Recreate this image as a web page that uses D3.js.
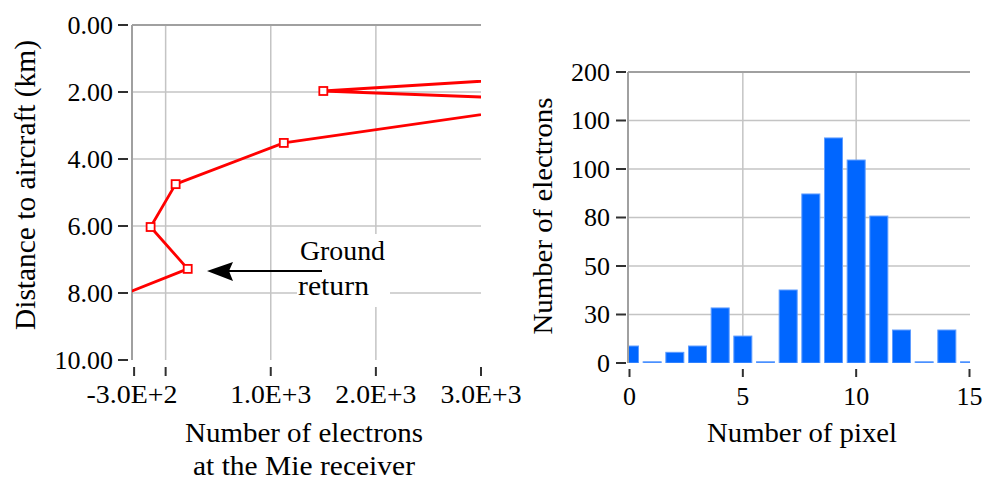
<!DOCTYPE html>
<html><head><meta charset="utf-8">
<script src="https://cdn.jsdelivr.net/npm/d3@7"></script>
<style>
html,body{margin:0;padding:0;background:#fff;}
svg{display:block;font-family:"Liberation Serif","Times New Roman",serif;}
</style></head>
<body><svg id="c" width="983" height="480"></svg>
<script>
// ---- Left chart data ----
const distanceKm = [1.25, 1.97, 2.26, 3.52, 4.75, 6.03, 7.28, 8.29];
const mieElectrons = [5220, 1500, 3930, 1124, 95, -143, 210, -600];
const leftXTicks = [-300, 0, 1000, 2000, 3000];
const leftXLabels = ["-3.0E+2", "", "1.0E+3", "2.0E+3", "3.0E+3"];
const leftYTicks = [0, 2, 4, 6, 8, 10];
const leftYLabels = ["0.00", "2.00", "4.00", "6.00", "8.00", "10.00"];

// ---- Right chart data ----
const pixelNumber = [0,1,2,3,4,5,6,7,8,9,10,11,12,13,14,15];
const pixelCounts = [7.0, 0.5, 4.4, 7.0, 22.7, 11.1, 0.5, 30.1, 69.7, 92.8, 83.7, 60.6, 13.6, 0.5, 13.6, 0.5];
const rightXTicks = [0, 5, 10, 15];
const rightYTicks = [0, 20, 40, 60, 80, 100, 120];
const rightYLabels = ["0", "30", "50", "80", "100", "100", "200"];

const svg = d3.select("#c");
const FS = 26, TFS = 28;
const gridC = "#c4c4c4", axisC = "#a0a0a0", tickC = "#303030";

function fitText(sel, len) {
  return sel.attr("textLength", len).attr("lengthAdjust", "spacingAndGlyphs");
}

// ================= LEFT =================
const xL = d3.scaleLinear().domain([-320, 3000]).range([132, 481]);
const yL = d3.scaleLinear().domain([0, 10]).range([25, 360]);
const L = svg.append("g");

L.selectAll(".vg").data([0, 1000, 2000]).join("line")
  .attr("x1", d => xL(d)).attr("x2", d => xL(d)).attr("y1", yL(0)).attr("y2", yL(10))
  .attr("stroke", gridC).attr("stroke-width", 1.5);
L.selectAll(".hg").data([2, 4, 6, 8]).join("line")
  .attr("x1", xL.range()[0]).attr("x2", xL.range()[1]).attr("y1", d => yL(d)).attr("y2", d => yL(d))
  .attr("stroke", gridC).attr("stroke-width", 1.5);
L.append("line").attr("x1", xL.range()[0]).attr("x2", xL.range()[1]).attr("y1", yL(0)).attr("y2", yL(0))
  .attr("stroke", axisC).attr("stroke-width", 2);
L.append("line").attr("x1", xL.range()[0]).attr("x2", xL.range()[0]).attr("y1", yL(0)).attr("y2", yL(10))
  .attr("stroke", axisC).attr("stroke-width", 2);

L.selectAll(".yt").data(leftYTicks).join("line")
  .attr("x1", 118).attr("x2", 128).attr("y1", d => yL(d)).attr("y2", d => yL(d))
  .attr("stroke", tickC).attr("stroke-width", 2);
L.selectAll(".yl").data(leftYTicks).join("text")
  .attr("x", 113).attr("y", d => yL(d) + 8.5).attr("text-anchor", "end")
  .attr("font-size", FS).text((d, i) => leftYLabels[i]);
L.selectAll(".xt").data(leftXTicks).join("line")
  .attr("x1", d => xL(d)).attr("x2", d => xL(d)).attr("y1", 367).attr("y2", 376)
  .attr("stroke", tickC).attr("stroke-width", 2);
L.selectAll(".xl").data(leftXTicks.filter((d, i) => leftXLabels[i])).join("text")
  .attr("x", d => d === -300 ? 132 : xL(d)).attr("y", 403).attr("text-anchor", "middle")
  .attr("font-size", FS)
  .attr("textLength", d => d === -300 ? 91 : 81).attr("lengthAdjust", "spacingAndGlyphs")
  .text(d => leftXLabels[leftXTicks.indexOf(d)]);

fitText(L.append("text").attr("x", 304).attr("y", 442).attr("text-anchor", "middle").attr("font-size", TFS)
  .text("Number of electrons"), 238);
fitText(L.append("text").attr("x", 304).attr("y", 475).attr("text-anchor", "middle").attr("font-size", TFS)
  .text("at the Mie receiver"), 222);
fitText(L.append("text").attr("transform", "translate(35,185) rotate(-90)").attr("text-anchor", "middle")
  .attr("font-size", TFS + 2).text("Distance to aircraft (km)"), 290);

L.append("rect").attr("x", 297).attr("y", 234).attr("width", 93).attr("height", 73).attr("fill", "#fff");
fitText(L.append("text").attr("x", 300).attr("y", 260).attr("font-size", TFS).text("Ground"), 85);
fitText(L.append("text").attr("x", 298).attr("y", 295).attr("font-size", TFS).text("return"), 71);

svg.append("defs").append("clipPath").attr("id", "clipL").append("rect")
  .attr("x", xL.range()[0]).attr("y", yL(0)).attr("width", xL.range()[1] - xL.range()[0]).attr("height", yL(10) - yL(0));
const pts = distanceKm.map((d, i) => [mieElectrons[i], d]);
const line = d3.line().x(d => xL(d[0])).y(d => yL(d[1]));
const lg = L.append("g").attr("clip-path", "url(#clipL)");
lg.append("path").attr("d", line(pts)).attr("fill", "none").attr("stroke", "#ff0000")
  .attr("stroke-width", 2.8).attr("stroke-linejoin", "round");
lg.selectAll(".mk").data(pts).join("rect")
  .attr("x", d => xL(d[0]) - 4).attr("y", d => yL(d[1]) - 4).attr("width", 8).attr("height", 8)
  .attr("fill", "#fff").attr("stroke", "#ff0000").attr("stroke-width", 1.8);

L.append("line").attr("x1", 322).attr("x2", 228).attr("y1", 271).attr("y2", 271)
  .attr("stroke", "#000").attr("stroke-width", 2);
L.append("path").attr("d", "M207,271 L233,262 L229,271 L233,281 Z").attr("fill", "#000");

// ================= RIGHT =================
const xR = d3.scaleLinear().domain([0, 15]).range([629.5, 969.5]);
const yR = d3.scaleLinear().domain([0, 120]).range([363, 72]);
const R = svg.append("g");
const rx0 = 628, rx1 = 970;

R.selectAll(".vg").data([5, 10]).join("line")
  .attr("x1", d => xR(d)).attr("x2", d => xR(d)).attr("y1", yR(120)).attr("y2", yR(0))
  .attr("stroke", gridC).attr("stroke-width", 1.5);
R.selectAll(".hg").data([20, 40, 60, 80, 100]).join("line")
  .attr("x1", rx0).attr("x2", rx1).attr("y1", d => yR(d)).attr("y2", d => yR(d))
  .attr("stroke", gridC).attr("stroke-width", 1.5);
R.append("line").attr("x1", rx0).attr("x2", rx1).attr("y1", yR(120)).attr("y2", yR(120))
  .attr("stroke", axisC).attr("stroke-width", 2);
R.append("line").attr("x1", rx0).attr("x2", rx0).attr("y1", yR(120)).attr("y2", yR(0))
  .attr("stroke", axisC).attr("stroke-width", 2);

svg.select("defs").append("clipPath").attr("id", "clipR").append("rect")
  .attr("x", rx0 + 1).attr("y", yR(120)).attr("width", rx1 - rx0 - 1).attr("height", yR(0) - yR(120));
const bw = 18;
R.append("g").attr("clip-path", "url(#clipR)").selectAll("rect").data(pixelNumber).join("rect")
  .attr("x", d => xR(d) - bw / 2).attr("width", bw)
  .attr("y", (d, i) => yR(pixelCounts[i])).attr("height", (d, i) => yR(0) - yR(pixelCounts[i]))
  .attr("fill", "#0066ff").attr("stroke", "#5e9cff").attr("stroke-width", 1);

R.selectAll(".yt").data(rightYTicks).join("line")
  .attr("x1", 616).attr("x2", 626).attr("y1", d => yR(d)).attr("y2", d => yR(d))
  .attr("stroke", tickC).attr("stroke-width", 2);
R.selectAll(".yl").data(rightYTicks).join("text")
  .attr("x", 610).attr("y", d => yR(d) + 8.5).attr("text-anchor", "end")
  .attr("font-size", FS).text((d, i) => rightYLabels[i]);
R.selectAll(".xt").data(rightXTicks).join("line")
  .attr("x1", d => xR(d)).attr("x2", d => xR(d)).attr("y1", 369).attr("y2", 377)
  .attr("stroke", tickC).attr("stroke-width", 2);
R.selectAll(".xl").data(rightXTicks).join("text")
  .attr("x", d => xR(d)).attr("y", 405).attr("text-anchor", "middle")
  .attr("font-size", FS).text(d => d);
fitText(R.append("text").attr("x", 802).attr("y", 442).attr("text-anchor", "middle").attr("font-size", TFS)
  .text("Number of pixel"), 190);
fitText(R.append("text").attr("transform", "translate(552,216) rotate(-90)").attr("text-anchor", "middle")
  .attr("font-size", TFS).text("Number of electrons"), 237);
</script></body></html>
